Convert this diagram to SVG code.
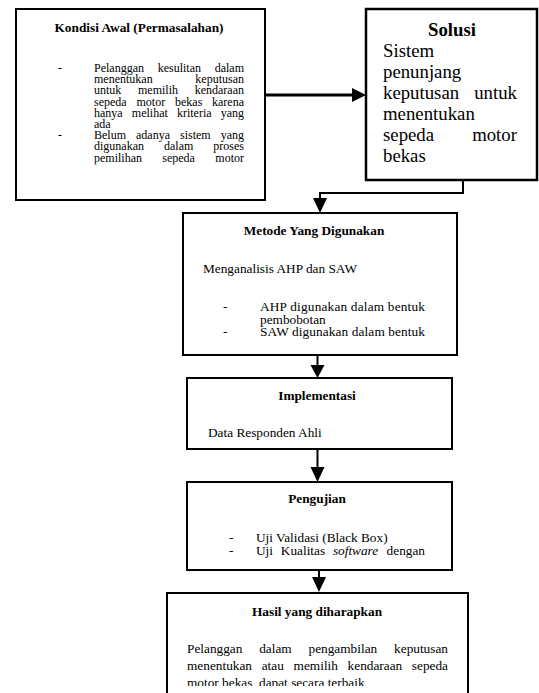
<svg xmlns="http://www.w3.org/2000/svg" width="539" height="693" viewBox="0 0 539 693">
<style>
  .box { fill: #ffffff; stroke: #000000; stroke-width: 2; }
  .t { font-family: "Liberation Serif", "Times New Roman", serif; font-size: 13.3px; fill: #000000; }
  .s { font-size: 12px; }
  .b { font-weight: bold; text-anchor: middle; }
  .e { text-anchor: end; }
  .big { font-size: 18.8px; }
  .conn { fill: none; stroke: #000000; stroke-width: 2; }
  .head { fill: #000000; stroke: none; }
</style>
<defs>
  <clipPath id="clipKondisi"><rect x="16" y="9" width="249" height="155.5"/></clipPath>
  <clipPath id="clipMetode"><rect x="183" y="213" width="274" height="131"/></clipPath>
  <clipPath id="clipHasil"><rect x="167" y="593" width="301" height="93"/></clipPath>
</defs>
<rect x="0" y="0" width="539" height="693" fill="#ffffff"/>

<g id="kondisi">
  <rect class="box" x="16" y="9" width="249" height="191"/>
  <text class="t b" x="139" y="32">Kondisi Awal (Permasalahan)</text>
  <g clip-path="url(#clipKondisi)">
    <text class="t s" x="58" y="72">-</text>
    <text class="t s" x="94" y="72">Pelanggan</text>
    <text class="t s" x="157.7" y="72">kesulitan</text>
    <text class="t s e" x="244" y="72">dalam</text>
    <text class="t s" x="94" y="83.2">menentukan</text>
    <text class="t s e" x="244" y="83.2">keputusan</text>
    <text class="t s" x="94" y="94.4">untuk</text>
    <text class="t s" x="138" y="94.4">memilih</text>
    <text class="t s e" x="244" y="94.4">kendaraan</text>
    <text class="t s" x="94" y="105.6">sepeda</text>
    <text class="t s" x="136.5" y="105.6">motor</text>
    <text class="t s" x="175" y="105.6">bekas</text>
    <text class="t s e" x="244" y="105.6">karena</text>
    <text class="t s" x="94" y="116.8">hanya</text>
    <text class="t s" x="131.8" y="116.8">melihat</text>
    <text class="t s" x="176.9" y="116.8">kriteria</text>
    <text class="t s e" x="244" y="116.8">yang</text>
    <text class="t s" x="94" y="128">ada</text>
    <text class="t s" x="58" y="139.2">-</text>
    <text class="t s" x="94" y="139.2">Belum</text>
    <text class="t s" x="136" y="139.2">adanya</text>
    <text class="t s" x="180" y="139.2">sistem</text>
    <text class="t s e" x="244" y="139.2">yang</text>
    <text class="t s" x="94" y="150.4">digunakan</text>
    <text class="t s" x="164" y="150.4">dalam</text>
    <text class="t s e" x="244" y="150.4">proses</text>
    <text class="t s" x="94" y="161.6">pemilihan</text>
    <text class="t s" x="162.3" y="161.6">sepeda</text>
    <text class="t s e" x="244" y="161.6">motor</text>
  </g>
</g>

<g id="solusi">
  <rect class="box" x="366" y="9" width="171" height="171" style="stroke-width:2.5"/>
  <text class="t big b" x="452" y="36">Solusi</text>
  <text class="t big" x="383" y="57">Sistem</text>
  <text class="t big" x="383" y="78">penunjang</text>
  <text class="t big" x="383" y="99">keputusan</text>
  <text class="t big e" x="517" y="99">untuk</text>
  <text class="t big" x="383" y="120">menentukan</text>
  <text class="t big" x="383" y="141">sepeda</text>
  <text class="t big e" x="517" y="141">motor</text>
  <text class="t big" x="383" y="162">bekas</text>
</g>

<g id="metode">
  <rect class="box" x="183" y="213" width="274" height="142"/>
  <text class="t b" x="314" y="235">Metode Yang Digunakan</text>
  <text class="t" x="203" y="273">Menganalisis AHP dan SAW</text>
  <g clip-path="url(#clipMetode)">
    <text class="t" x="223" y="311">-</text>
    <text class="t" x="260" y="311" textLength="165" lengthAdjust="spacing">AHP digunakan dalam bentuk</text>
    <text class="t" x="260" y="323.5">pembobotan</text>
    <text class="t" x="223" y="336">-</text>
    <text class="t" x="260" y="336" textLength="165" lengthAdjust="spacing">SAW digunakan dalam bentuk</text>
  </g>
</g>

<g id="implementasi">
  <rect class="box" x="187" y="378" width="265" height="71"/>
  <text class="t b" x="317" y="400">Implementasi</text>
  <text class="t" x="208" y="437">Data Responden Ahli</text>
</g>

<g id="pengujian">
  <rect class="box" x="187" y="482" width="265" height="88"/>
  <text class="t b" x="317" y="503">Pengujian</text>
  <text class="t" x="229" y="542">-</text>
  <text class="t" x="256" y="542">Uji Validasi (Black Box)</text>
  <text class="t" x="229" y="555">-</text>
  <text class="t" x="256" y="555">Uji</text>
  <text class="t" x="280.8" y="555">Kualitas</text>
  <text class="t" x="332.9" y="555" font-style="italic">software</text>
  <text class="t e" x="425" y="555">dengan</text>
</g>

<g id="hasil">
  <rect class="box" x="167" y="593" width="301" height="110"/>
  <text class="t b" x="317" y="616">Hasil yang diharapkan</text>
  <g clip-path="url(#clipHasil)">
    <text class="t" x="187" y="653">Pelanggan</text>
    <text class="t" x="259.2" y="653">dalam</text>
    <text class="t" x="308.5" y="653">pengambilan</text>
    <text class="t e" x="448" y="653">keputusan</text>
    <text class="t" x="187" y="670">menentukan</text>
    <text class="t" x="261.7" y="670">atau</text>
    <text class="t" x="293.6" y="670">memilih</text>
    <text class="t" x="347.6" y="670">kendaraan</text>
    <text class="t e" x="448" y="670">sepeda</text>
    <text class="t" x="187" y="687">motor bekas, dapat secara terbaik</text>
  </g>
</g>

<g id="connectors">
  <line class="conn" x1="265" y1="95" x2="353" y2="95" style="stroke-width:3"/>
  <polygon class="head" points="352,88 366,95 352,102"/>
  <polyline class="conn" points="463,180 463,193 320,193 320,199"/>
  <polygon class="head" points="313,198 327,198 320,213"/>
  <line class="conn" x1="317.5" y1="355" x2="317.5" y2="366"/>
  <polygon class="head" points="310.5,365 324.5,365 317.5,378"/>
  <line class="conn" x1="317.5" y1="449" x2="317.5" y2="468"/>
  <polygon class="head" points="310.5,467 324.5,467 317.5,482"/>
  <line class="conn" x1="319" y1="570" x2="319" y2="578"/>
  <polygon class="head" points="312,577 326,577 319,592"/>
</g>
</svg>
